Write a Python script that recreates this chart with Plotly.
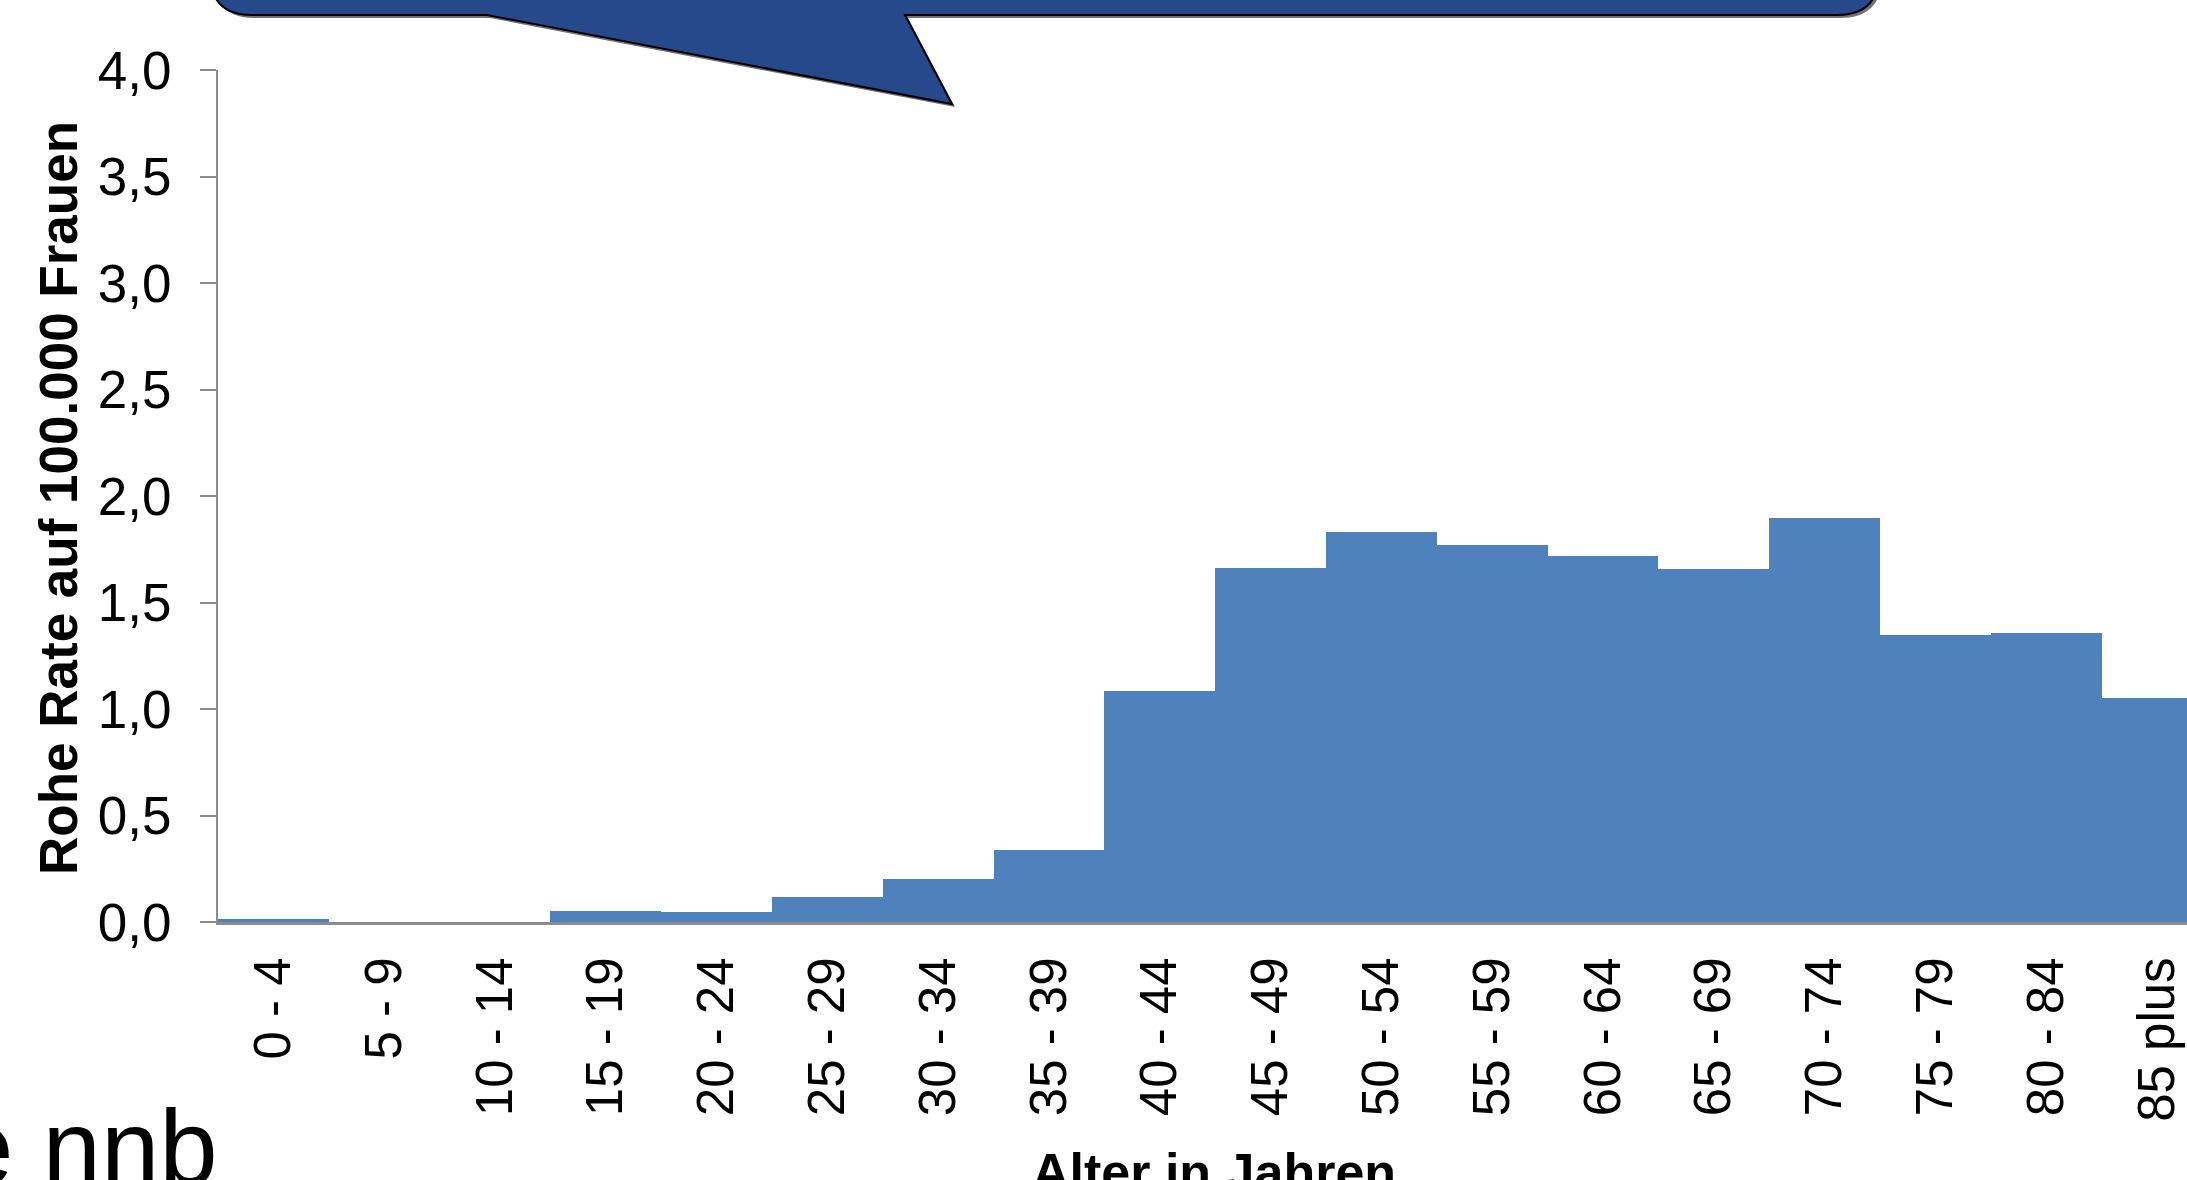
import plotly.graph_objects as go

# Age groups and crude rates per 100,000 women
age_groups = ["0 - 4", "5 - 9", "10 - 14", "15 - 19", "20 - 24", "25 - 29",
              "30 - 34", "35 - 39", "40 - 44", "45 - 49", "50 - 54", "55 - 59",
              "60 - 64", "65 - 69", "70 - 74", "75 - 79", "80 - 84", "85 plus"]
rates = [0.015, 0.0, 0.0, 0.053, 0.045, 0.119, 0.204, 0.34, 1.083, 1.664,
         1.829, 1.768, 1.719, 1.655, 1.899, 1.347, 1.359, 1.053]
y_ticks = [0.0, 0.5, 1.0, 1.5, 2.0, 2.5, 3.0, 3.5, 4.0]

W, H = 2187, 1180
ML, MR, MT, MB = 218, 0, 70, 258
PW, PH = W - ML - MR, H - MT - MB

FONT = "Liberation Sans, Arial, sans-serif"


def px(x, y):
    """Pixel position on the page -> paper coordinates."""
    return (x - ML) / PW, (H - MB - y) / PH


def path(points):
    parts = []
    for cmd, pts in points:
        coords = " ".join(f"{px(x, y)[0]:.5f},{px(x, y)[1]:.5f}" for x, y in pts)
        parts.append(f"{cmd}{coords}")
    return " ".join(parts) + " Z"


fig = go.Figure()
fig.add_trace(go.Bar(
    x=list(range(len(age_groups))),
    y=rates,
    marker=dict(color="#4F81BD", line=dict(width=0)),
    width=1.0,
    hoverinfo="skip",
))

# Speech-bubble callout above the plot
left, right, bottom, r = 210, 1879, 15, 42
bubble = [
    ("M", [(left, -200)]),
    ("L", [(left, bottom - r)]),
    ("Q", [(left, bottom), (left + r, bottom)]),
    ("L", [(487, bottom)]),
    ("L", [(952, 104)]),
    ("L", [(905, bottom)]),
    ("L", [(right - r, bottom)]),
    ("Q", [(right, bottom), (right, bottom - r)]),
    ("L", [(right, -200)]),
]
shadow = [(c, [(x + 3, y + 3) for x, y in p]) for c, p in bubble]
shapes = [
    dict(type="path", xref="paper", yref="paper", path=path(shadow),
         fillcolor="rgba(0,0,0,0.55)", line=dict(width=0), layer="above"),
    dict(type="path", xref="paper", yref="paper", path=path(bubble),
         fillcolor="#26498C", line=dict(color="#000000", width=2), layer="above"),
]

ytx, yty = px(59, 498)
xtx, xty = px(1214, 1141)
ex, ey = px(220, 1208)
annotations = [
    dict(text="<b>Rohe Rate auf 100.000 Frauen</b>", xref="paper", yref="paper",
         x=ytx, y=yty, xanchor="center", yanchor="middle", textangle=-90,
         showarrow=False, font=dict(family=FONT, size=53, color="#000000")),
    dict(text="<b>Alter in Jahren</b>", xref="paper", yref="paper",
         x=xtx, y=xty, xanchor="center", yanchor="top",
         showarrow=False, font=dict(family=FONT, size=52, color="#000000")),
    dict(text="e nnb", xref="paper", yref="paper",
         x=ex, y=ey, xanchor="right", yanchor="bottom",
         showarrow=False, font=dict(family=FONT, size=105, color="#000000")),
]

fig.update_layout(
    width=W, height=H,
    margin=dict(l=ML, r=MR, t=MT, b=MB, pad=0, autoexpand=False),
    paper_bgcolor="white", plot_bgcolor="white",
    separators=",.",
    bargap=0,
    showlegend=False,
    shapes=shapes,
    annotations=annotations,
    font=dict(family=FONT, color="#000000"),
)
fig.update_xaxes(
    range=[-0.5, 17.27],
    tickmode="array",
    tickvals=list(range(len(age_groups))),
    ticktext=age_groups,
    tickangle=-90,
    tickfont=dict(family=FONT, size=51, color="#000000"),
    ticks="",
    ticklabelstandoff=12,
    showline=True, linecolor="#8C8C8C", linewidth=3,
    showgrid=False, zeroline=False, automargin=False,
)
fig.update_yaxes(
    range=[0, 4],
    tickmode="array",
    tickvals=y_ticks,
    tickformat=".1f",
    tickfont=dict(family=FONT, size=53, color="#000000"),
    ticks="outside", ticklen=16, tickwidth=2, tickcolor="#8C8C8C",
    ticklabelstandoff=18,
    showline=True, linecolor="#8C8C8C", linewidth=2,
    showgrid=False, zeroline=False, automargin=False,
)

fig.write_html("out.html", config={"displayModeBar": False})
